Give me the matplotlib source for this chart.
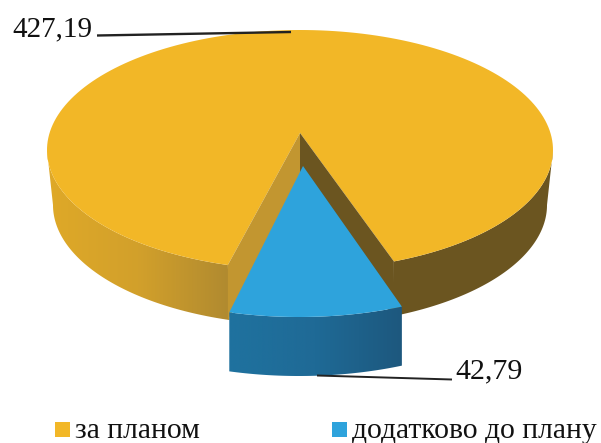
import numpy as np
import matplotlib
matplotlib.use("Agg")
import matplotlib.pyplot as plt
from matplotlib.patches import Polygon, Rectangle
from matplotlib.colors import LinearSegmentedColormap

categories = ["за планом", "додатково до плану"]
values = [427.19, 42.79]
value_labels = ["427,19", "42,79"]

GOLD = "#f2b727"
BLUE = "#2ea3dc"
FONT = "Liberation Serif"

fig = plt.figure(figsize=(6.01, 4.43), dpi=100)
ax = fig.add_axes([0, 0, 1, 1])
ax.set_xlim(0, 601)
ax.set_ylim(443, 0)
ax.axis("off")


def arc(cx, cy, rx, ry, t0, t1):
    # t is measured from the bottom of the ellipse, in degrees
    t = np.radians(np.linspace(t0, t1, 200))
    return np.column_stack([cx + rx * np.sin(t), cy + ry * np.cos(t)])


def gradient_poly(points, colors, z):
    patch = Polygon(points, closed=True, fc="none", ec="none", zorder=z)
    ax.add_patch(patch)
    cmap = LinearSegmentedColormap.from_list("g", colors)
    x0, x1 = points[:, 0].min(), points[:, 0].max()
    y0, y1 = points[:, 1].min(), points[:, 1].max()
    im = ax.imshow(np.linspace(0, 1, 256).reshape(1, -1), cmap=cmap, aspect="auto",
                   extent=[x0, x1, y1, y0], zorder=z)
    im.set_clip_path(patch)
    ax.set_xlim(0, 601)
    ax.set_ylim(443, 0)


# the pie is seen in perspective, the small slice looks wider than its share
share = values[1] / sum(values)
gap = 360 * share * 1.17
gap_l = -gap * 0.432
gap_r = gap + gap_l
blue_sweep = 360 * share * 1.22
blue_l = -blue_sweep * 0.4
blue_r = blue_sweep + blue_l

# gold outer wall
top_left = arc(300, 150, 253, 120, -90, gap_l)
bot_left = arc(300, 205, 247, 120, gap_l, -90)
gradient_poly(np.vstack([top_left, bot_left]), ["#dfa928", "#d2a02b", "#b08a30"], 1)
top_right = arc(300, 150, 253, 120, gap_r, 90)
bot_right = arc(300, 205, 247, 120, 90, gap_r)
ax.add_patch(Polygon(np.vstack([top_right, bot_right]), fc="#6b5520", ec="none", zorder=1))

# gold top with the notch
rim = arc(300, 150, 253, 120, gap_r, 360 + gap_l)
ax.add_patch(Polygon(np.vstack([[300, 133], rim]), fc=GOLD, ec="none", zorder=2))
corner_l = rim[-1]
corner_r = rim[0]

# inner walls of the notch
ax.add_patch(Polygon([[300, 133], corner_l, [corner_l[0], 320], [300, 190]],
                     fc="#c29630", ec="none", zorder=3))
ax.add_patch(Polygon([[300, 133], corner_r, [corner_r[0], 318], [300, 190]],
                     fc="#6b5520", ec="none", zorder=3))

# pulled out blue slice
blue_top = arc(299, 197, 253, 120, blue_l, blue_r)
blue_bot = arc(299, 256, 253, 120, blue_r, blue_l)
gradient_poly(np.vstack([blue_top, blue_bot]), ["#1f729f", "#1f6a96", "#1d587e"], 4)
ax.add_patch(Polygon(np.vstack([[303, 166], blue_top]), fc=BLUE, ec="none", zorder=5))

# leader lines
ax.plot([97, 291], [35.5, 32], color="#222222", lw=1.7, zorder=6, solid_capstyle="butt")
ax.plot([317, 452], [375.5, 379.5], color="#222222", lw=1.4, zorder=6, solid_capstyle="butt")

ax.text(12, 36, value_labels[0], fontsize=21, family=FONT, color="#111111", va="baseline", zorder=7)
ax.text(455, 378, value_labels[1], fontsize=21.5, family=FONT, color="#111111", va="baseline", zorder=7)

# legend
for x, col, name in zip([55, 332], [GOLD, BLUE], categories):
    ax.add_patch(Rectangle((x, 422), 15, 15, fc=col, ec="none", zorder=7))
    ax.text(x + 20, 438, name, fontsize=21.3, family=FONT, color="#111111", va="baseline", zorder=7)

fig.savefig("out.png", dpi=100)
